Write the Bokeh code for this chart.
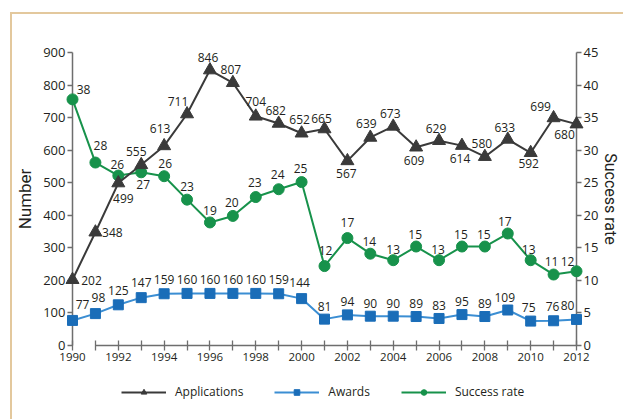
from bokeh.plotting import figure
from bokeh.layouts import column
from bokeh.models import (ColumnDataSource, Range1d, LinearAxis, Legend, LegendItem,
                          FixedTicker)
from bokeh.core.properties import value
from bokeh.embed import file_html
from bokeh.resources import INLINE

years = list(range(1990, 2013))
applications = [202, 348, 499, 555, 613, 711, 846, 807, 704, 682, 652, 665, 567,
                639, 673, 609, 629, 614, 580, 633, 592, 699, 680]
awards = [77, 98, 125, 147, 159, 160, 160, 160, 160, 159, 144, 81, 94, 90, 90, 89,
          83, 95, 89, 109, 75, 76, 80]
success_rate = [37.8, 28.1, 26.1, 26.6, 26.0, 22.4, 18.9, 19.9, 22.8, 24.0, 25.1,
                12.2, 16.5, 14.1, 13.1, 15.2, 13.1, 15.2, 15.2, 17.2, 13.1, 10.9, 11.4]
success_labels = [38, 28, 26, 27, 26, 23, 19, 20, 23, 24, 25, 12, 17, 14, 13, 15,
                  13, 15, 15, 17, 13, 11, 12]
number_ticks = list(range(0, 901, 100))
rate_ticks = list(range(0, 46, 5))
series_names = ["Applications", "Awards", "Success rate"]

# label offsets (screen px, y down)
app_dx = [19, 17, 5, -5, -4, -9, -2, -2, 0, -3, -2, -3, -1, -4, -3, -2, -3, -2, -3, -3, -2, -13, -12]
app_dy = [1, 0, 15, -13, -17, -13, -13, -13, -15, -13, -14, -11, 13, -14, -13, 13, -12, 13, -13, -12, 11, -11, 10]
aw_dx = [10, 3, 0, 0, 0, 0, 0, 0, 0, 0, -2, 0, 0, 0, 0, 0, 0, 0, 0, -3, -2, -1, -9]
aw_dy = [-16, -16, -14, -15, -14, -14, -14, -14, -14, -14, -16, -13, -13, -13, -13, -13, -13, -13, -13, -13, -14, -14, -14]
sr_dx = [11, 5, -1, 2, 1, 0, 0, -1, -1, -1, -1, 1, 0, -1, 0, -1, -1, -1, -1, -3, -2, -2, -9]
sr_dy = [-10, -17, -11, 12, -13, -13, -12, -13, -15, -15, -14, -16, -16, -12, -11, -12, -11, -12, -12, -12, -11, -13, -10]

APP_C = "#3a3a3a"
AW_LINE = "#3b8ed3"
AW_MARK = "#1a6db8"
SR_C = "#17924b"
TXT = "#231f20"
AXC = "#6e6e6e"
FONT = "Open Sans"
TFONT = "Roboto"

src = ColumnDataSource(dict(
    year=years, app=applications, aw=awards, sr=success_rate,
    app_t=[str(v) for v in applications], aw_t=[str(v) for v in awards],
    sr_t=[str(v) for v in success_labels],
    app_dx=app_dx, app_dy=app_dy, aw_dx=aw_dx, aw_dy=aw_dy, sr_dx=sr_dx, sr_dy=sr_dy,
))

p = figure(width=611, height=358, x_range=Range1d(years[0], years[-1]),
           y_range=Range1d(number_ticks[0], number_ticks[-1]),
           output_backend="svg", toolbar_location=None,
           min_border_left=60, min_border_right=45, min_border_top=38, min_border_bottom=27)
p.extra_y_ranges = {"rate": Range1d(rate_ticks[0], rate_ticks[-1])}
p.outline_line_color = None
p.grid.visible = False
p.background_fill_color = "white"
p.border_fill_color = "white"

# x axis
xa = p.xaxis[0]
xa.ticker = FixedTicker(ticks=years)
xa.major_label_overrides = {y: ("" if y % 2 else str(y)) for y in years}
xa.axis_line_color = None
xa.major_tick_in = 5
xa.major_tick_out = 5
xa.major_tick_line_color = AXC
xa.major_tick_line_width = 1.3
xa.minor_tick_line_color = None
xa.major_label_text_font = FONT
xa.major_label_text_font_size = "11.5px"
xa.major_label_text_color = TXT
xa.major_label_standoff = 2

# left axis
ya = p.yaxis[0]
ya.ticker = FixedTicker(ticks=number_ticks)
ya.axis_line_color = AXC
ya.axis_line_width = 1.5
ya.major_tick_in = 0
ya.major_tick_out = 5
ya.major_tick_line_color = AXC
ya.major_tick_line_width = 1.3
ya.minor_tick_line_color = None
ya.major_label_text_font = FONT
ya.major_label_text_font_size = "13px"
ya.major_label_text_color = TXT
ya.major_label_standoff = 2
ya.axis_label = "Number"
ya.axis_label_text_font = TFONT
ya.axis_label_text_font_style = "normal"
ya.axis_label_text_font_size = "17px"
ya.axis_label_text_color = TXT
ya.axis_label_standoff = 5

ra = LinearAxis(y_range_name="rate", ticker=FixedTicker(ticks=rate_ticks))
ra.axis_line_color = AXC
ra.axis_line_width = 1.5
ra.major_tick_in = 0
ra.major_tick_out = 5
ra.major_tick_line_color = AXC
ra.major_tick_line_width = 1.3
ra.minor_tick_line_color = None
ra.major_label_text_font = FONT
ra.major_label_text_font_size = "13px"
ra.major_label_text_color = TXT
ra.major_label_standoff = 2
ra.axis_label = "Success rate"
ra.axis_label_text_font = TFONT
ra.axis_label_text_font_style = "normal"
ra.axis_label_text_font_size = "16px"
ra.axis_label_text_color = TXT
ra.axis_label_standoff = 0
p.add_layout(ra, "right")

# x axis baseline (from second year to last year)
p.segment(x0=[years[1]], y0=[number_ticks[0]], x1=[years[-1]], y1=[number_ticks[0]],
          line_color=AXC, line_width=1.5, level="overlay")

# series
p.line("year", "sr", source=src, y_range_name="rate", line_color=SR_C, line_width=2, level="overlay")
p.scatter("year", "sr", source=src, y_range_name="rate", marker="circle", size=11,
          fill_color=SR_C, line_color=SR_C, level="overlay")
p.line("year", "app", source=src, line_color=APP_C, line_width=2, level="overlay")
p.scatter("year", "app", source=src, marker="triangle", size=13,
          fill_color=APP_C, line_color=APP_C, level="overlay")
p.line("year", "aw", source=src, line_color=AW_LINE, line_width=2, level="overlay")
p.scatter("year", "aw", source=src, marker="square", size=10,
          fill_color=AW_MARK, line_color=AW_MARK, level="overlay")

common = dict(source=src, text_align="center", text_baseline="middle",
              text_font=value(FONT), text_font_size="12px", text_color=TXT, level="overlay")
p.text("year", "app", text="app_t", x_offset="app_dx", y_offset="app_dy", **common)
p.text("year", "aw", text="aw_t", x_offset="aw_dx", y_offset="aw_dy", **common)
p.text("year", "sr", text="sr_t", x_offset="sr_dx", y_offset="sr_dy", y_range_name="rate", **common)

# legend strip (its own small figure below the chart); key renderers reuse the
# chart's own data source but sit on ranges where they stay out of view
lg = figure(width=611, height=47, x_range=Range1d(0, 1), y_range=Range1d(0, 1),
            x_axis_type=None, y_axis_type=None,
            output_backend="svg", toolbar_location=None,
            min_border_left=0, min_border_right=0, min_border_top=0, min_border_bottom=0)
lg.grid.visible = False
lg.outline_line_color = None
lg.border_fill_color = "white"
lg.background_fill_color = "white"
styles_k = [("app", APP_C, APP_C, "triangle", 13), ("aw", AW_LINE, AW_MARK, "square", 10),
            ("sr", SR_C, SR_C, "circle", 11)]
items = []
for name, (col, lc, mc, mk, sz) in zip(series_names, styles_k):
    r1 = lg.line("year", col, source=src, line_color=lc, line_width=2)
    r2 = lg.scatter("year", col, source=src, marker=mk, size=sz, fill_color=mc, line_color=mc)
    items.append(LegendItem(label=name, renderers=[r1, r2]))
legend = Legend(items=items, orientation="horizontal", location=(49, 19))
legend.glyph_width = 45
legend.glyph_height = 14
legend.label_standoff = 9
legend.spacing = 31
legend.padding = 4
legend.margin = 0
legend.border_line_color = None
legend.background_fill_alpha = 0
legend.label_text_font = FONT
legend.label_text_font_size = "12px"
legend.label_text_color = TXT
lg.add_layout(legend, "center")

layout = column(p, lg, spacing=0)
layout.styles = {"position": "relative", "left": "10px", "top": "12px",
                 "border-left": "2px solid #e3c89d", "border-top": "2px solid #e3c89d"}

open("out.html", "w").write(file_html(layout, INLINE))
